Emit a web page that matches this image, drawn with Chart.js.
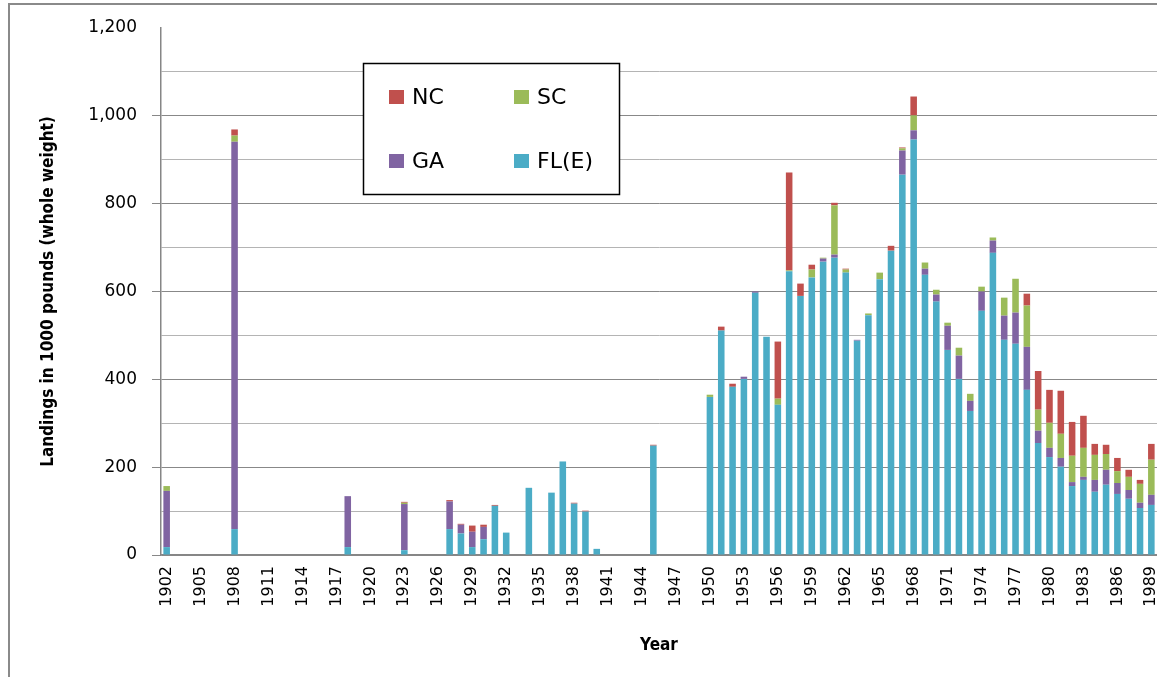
<!DOCTYPE html>
<html>
<head>
<meta charset="utf-8">
<script src="https://cdn.jsdelivr.net/npm/chart.js@4.4.1/dist/chart.umd.min.js"></script>
<style>
  html, body { margin: 0; padding: 0; background: #fff; }
  #wrap { position: relative; width: 1157px; height: 677px; }
</style>
</head>
<body>
<div id="wrap"><canvas id="chart" width="1157" height="677"></canvas></div>
<script>
// years 1902..1989
const years = [
  1902,1903,1904,1905,1906,1907,1908,1909,
  1910,1911,1912,1913,1914,1915,1916,1917,1918,1919,
  1920,1921,1922,1923,1924,1925,1926,1927,1928,1929,
  1930,1931,1932,1933,1934,1935,1936,1937,1938,1939,
  1940,1941,1942,1943,1944,1945,1946,1947,1948,1949,
  1950,1951,1952,1953,1954,1955,1956,1957,1958,1959,
  1960,1961,1962,1963,1964,1965,1966,1967,1968,1969,
  1970,1971,1972,1973,1974,1975,1976,1977,1978,1979,
  1980,1981,1982,1983,1984,1985,1986,1987,1988,1989
];

// landings in 1000 pounds, one value per year
const flE = [
  18,0,0,0,0,0,59,0,
  0,0,0,0,0,0,0,0,18,0,
  0,0,0,11,0,0,0,59,49,18,
  36,112,51,0,153,0,142,213,117,99,
  14,0,0,0,0,249,0,0,0,0,
  360,511,383,401,597,497,342,646,590,632,
  668,677,643,488,546,628,693,866,946,638,
  577,467,401,328,556,688,490,481,376,255,
  223,201,157,171,144,160,139,128,107,114
];
const ga = [
  128,0,0,0,0,0,882,0,
  0,0,0,0,0,0,0,0,116,0,
  0,0,0,105,0,0,0,63,20,35,
  28,0,0,0,0,0,0,0,0,0,
  0,0,0,0,0,0,0,0,0,0,
  0,0,0,5,3,0,0,0,0,0,
  7,7,0,2,0,0,0,55,21,14,
  16,55,53,23,44,28,55,71,98,28,
  21,20,9,7,27,34,25,20,12,23
];
const sc = [
  11,0,0,0,0,0,14,0,
  0,0,0,0,0,0,0,0,0,0,
  0,0,0,3,0,0,0,0,0,0,
  0,0,0,0,0,0,0,0,0,0,
  0,0,0,0,0,0,0,0,0,0,
  5,0,0,0,0,0,14,2,0,18,
  2,112,7,0,4,15,0,5,34,14,
  11,7,18,16,11,7,41,77,94,48,
  57,55,60,66,57,36,27,30,43,80
];
const nc = [
  0,0,0,0,0,0,14,0,
  0,0,0,0,0,0,0,0,0,0,
  0,0,0,2,0,0,0,3,2,14,
  5,2,0,0,0,0,0,0,2,2,
  0,0,0,0,0,2,0,0,0,0,
  0,9,7,0,0,0,130,223,28,11,
  0,6,2,0,0,0,11,2,43,0,
  0,0,0,0,0,0,0,0,27,88,
  75,98,77,73,25,21,30,16,9,36
];

const yMax = 1200;
const yStep = 100;

const tickFont = "'DejaVu Sans', sans-serif";
const titleFont = "'DejaVu Sans Condensed', 'Liberation Sans Narrow', 'Roboto Condensed', 'DejaVu Sans', sans-serif";

// chart frame and white background
const framePlugin = {
  id: 'frame',
  beforeDraw(chart) {
    const ctx = chart.ctx;
    ctx.save();
    ctx.fillStyle = '#fff';
    ctx.fillRect(0, 0, chart.width, chart.height);
    ctx.strokeStyle = '#8a8a8a';
    ctx.lineWidth = 2;
    ctx.beginPath();
    ctx.moveTo(9, chart.height);
    ctx.lineTo(9, 4);
    ctx.lineTo(chart.width, 4);
    ctx.stroke();
    ctx.restore();
  }
};

// boxed two-column legend inside the plot
const legendBox = {
  id: 'legendBox',
  afterDraw(chart) {
    const ctx = chart.ctx;
    const ds = chart.data.datasets;
    ctx.save();
    ctx.fillStyle = '#fff';
    ctx.fillRect(363, 63, 256, 131);
    ctx.strokeStyle = '#000';
    ctx.lineWidth = 1.5;
    ctx.strokeRect(363.5, 63.5, 256, 131);
    const slots = [[3, 389, 97], [2, 514, 97], [1, 389, 161], [0, 514, 161]];
    ctx.font = "22px 'DejaVu Sans', sans-serif";
    ctx.textBaseline = 'middle';
    slots.forEach(([i, x, y]) => {
      ctx.fillStyle = ds[i].backgroundColor;
      ctx.fillRect(x, y - 7, 15, 14);
      ctx.fillStyle = '#000';
      ctx.fillText(ds[i].label, x + 23, y + 1);
    });
    ctx.restore();
  }
};

new Chart(document.getElementById('chart'), {
  type: 'bar',
  data: {
    labels: years,
    datasets: [
      { label: 'FL(E)', data: flE, backgroundColor: '#4BACC6' },
      { label: 'GA', data: ga, backgroundColor: '#8064A2' },
      { label: 'SC', data: sc, backgroundColor: '#9BBB59' },
      { label: 'NC', data: nc, backgroundColor: '#C0504D' }
    ]
  },
  options: {
    responsive: false,
    animation: false,
    devicePixelRatio: 1,
    layout: { padding: { top: 28, right: 0, bottom: 0, left: 0 } },
    datasets: { bar: { barPercentage: 0.58, categoryPercentage: 1.0, borderWidth: 0 } },
    plugins: { legend: { display: false }, tooltip: { enabled: false } },
    scales: {
      x: {
        stacked: true,
        grid: { display: false, drawTicks: false },
        border: { display: true, color: '#868686', width: 1.5 },
        ticks: {
          autoSkip: false,
          maxRotation: 90,
          minRotation: 90,
          padding: 11,
          color: '#000',
          font: { family: tickFont, size: 16 },
          callback: function(value, index) {
            return index % 3 === 0 ? String(years[index]) : '';
          }
        },
        title: {
          display: true,
          text: 'Year',
          color: '#000',
          font: { family: titleFont, size: 17, weight: 'bold' },
          padding: { top: 0, bottom: 21 }
        },
        afterFit(scale) {
          scale.height = 122;
          scale.paddingLeft = 0;
          scale.paddingRight = 0;
        }
      },
      y: {
        stacked: true,
        min: 0,
        max: yMax,
        grid: {
          color: ctx => ctx.tick.value === yMax ? 'rgba(0,0,0,0)' : (ctx.tick.value % 200 === 0 ? '#888888' : '#b4b4b4'),
          tickColor: ctx => (ctx.tick.value % 200 === 0 && ctx.tick.value !== yMax) ? '#888888' : 'rgba(0,0,0,0)',
          tickLength: 9,
          lineWidth: 1
        },
        border: { display: true, color: '#868686', width: 1.5 },
        ticks: {
          stepSize: yStep,
          padding: 15,
          color: '#000',
          font: { family: tickFont, size: 17 },
          callback: v => v % 200 === 0 ? v.toLocaleString('en-US') : ''
        },
        title: {
          display: true,
          text: 'Landings in 1000 pounds (whole weight)',
          color: '#000',
          font: { family: titleFont, size: 17, weight: 'bold' },
          padding: { top: 38, bottom: 0 }
        },
        afterFit(scale) {
          scale.width = 161;
          scale.paddingTop = 0;
          scale.paddingBottom = 0;
        }
      }
    }
  },
  plugins: [framePlugin, legendBox]
});
</script>
</body>
</html>
